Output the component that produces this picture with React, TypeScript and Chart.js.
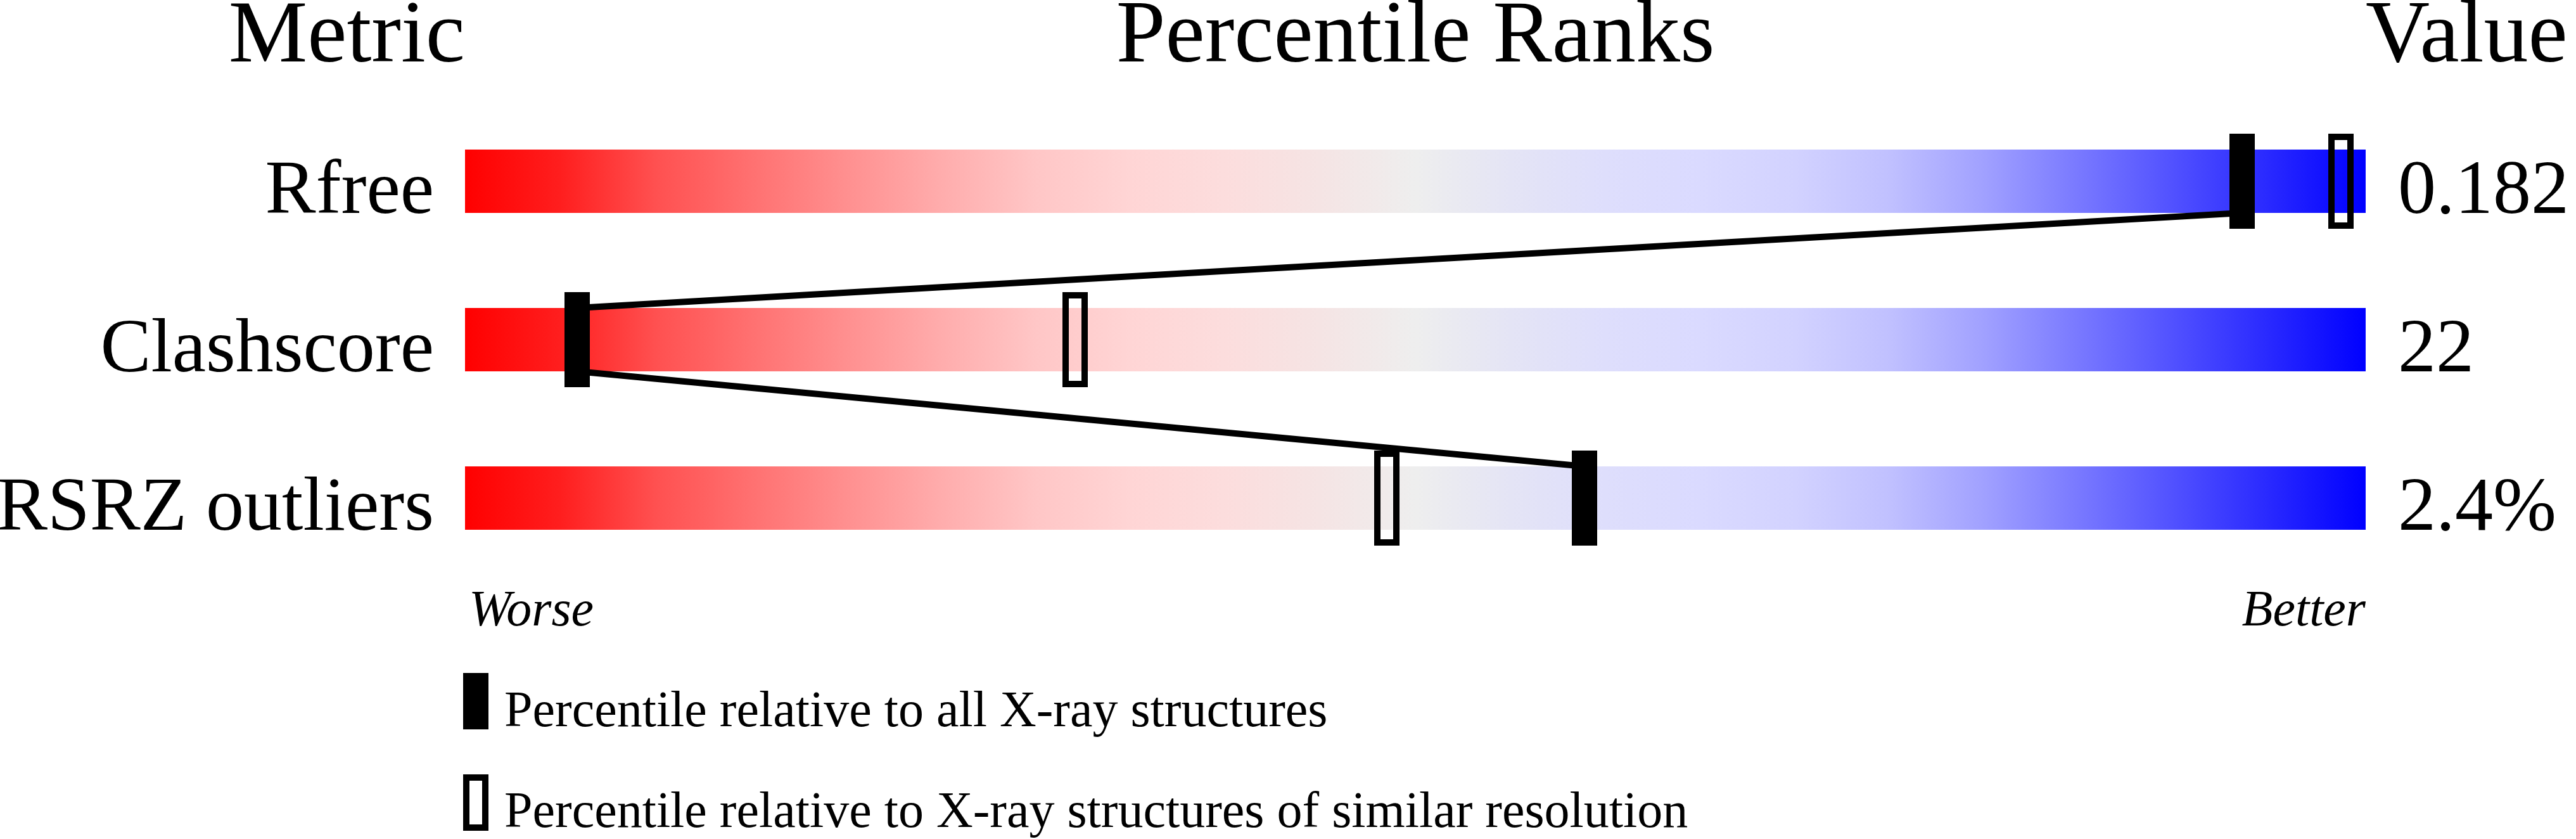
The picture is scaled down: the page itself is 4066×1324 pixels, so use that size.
import React, { useEffect, useRef } from "react";
import { Chart, registerables } from "chart.js";

Chart.register(...registerables);

// ---- data ----
const metrics = ["Rfree", "Clashscore", "RSRZ outliers"];
const metricValues = ["0.182", "22", "2.4%"];
const percentileAll = [93.5, 5.9, 58.9];
const percentileSimilar = [98.7, 32.1, 48.5];
const headers = ["Metric", "Percentile Ranks", "Value"];
const axisEnds = ["Worse", "Better"];
const legendLabels = [
  "Percentile relative to all X-ray structures",
  "Percentile relative to X-ray structures of similar resolution",
];

// ---- style ----
const W = 4066;
const H = 1324;
const BAR_FRACTION = 0.4;
const SERIF = '"Liberation Serif", "Times New Roman", serif';
const gradientStops: [number, string][] = [
  [0, "rgb(255,0,0)"],
  [0.05, "rgb(255,30,30)"],
  [0.1, "rgb(255,80,80)"],
  [0.15, "rgb(255,112,112)"],
  [0.2, "rgb(255,143,143)"],
  [0.25, "rgb(255,172,172)"],
  [0.3, "rgb(255,198,198)"],
  [0.35, "rgb(255,213,213)"],
  [0.4, "rgb(252,221,221)"],
  [0.45, "rgb(245,228,228)"],
  [0.5, "rgb(238,238,238)"],
  [0.55, "rgb(228,228,245)"],
  [0.6, "rgb(222,222,252)"],
  [0.65, "rgb(218,218,255)"],
  [0.7, "rgb(210,210,255)"],
  [0.75, "rgb(192,192,255)"],
  [0.8, "rgb(160,160,255)"],
  [0.85, "rgb(120,120,255)"],
  [0.9, "rgb(80,80,255)"],
  [0.95, "rgb(40,40,255)"],
  [1, "rgb(0,0,255)"],
];

function makeMarker(filled: boolean, w: number, h: number, border: number) {
  const c = document.createElement("canvas");
  c.width = w;
  c.height = h;
  const g = c.getContext("2d")!;
  g.fillStyle = "#000";
  if (filled) {
    g.fillRect(0, 0, w, h);
  } else {
    g.fillRect(0, 0, w, border);
    g.fillRect(0, h - border, w, border);
    g.fillRect(0, 0, border, h);
    g.fillRect(w - border, 0, border, h);
  }
  return c;
}

export default function App() {
  const ref = useRef<HTMLCanvasElement | null>(null);

  useEffect(() => {
    document.body.style.margin = "0";
    const canvas = ref.current!;
    const filledMarker = makeMarker(true, 40, 150, 10);
    const openMarker = makeMarker(false, 40, 150, 10);

    const rows = metrics.map((_, i) => i + 1);
    const half = BAR_FRACTION / 2;

    const linePts: { x: number; y: number }[] = [];
    for (let i = 0; i < rows.length; i++) {
      if (i > 0) linePts.push({ x: percentileAll[i], y: rows[i] - half });
      if (i < rows.length - 1) linePts.push({ x: percentileAll[i], y: rows[i] + half });
    }

    const textPlugin = {
      id: "textPlugin",
      afterDraw(chart: any) {
        const { ctx } = chart;
        const xs = chart.scales.x;
        const ys = chart.scales.y;
        const x0 = xs.getPixelForValue(0);
        const x100 = xs.getPixelForValue(100);
        const xMid = xs.getPixelForValue(50);
        const halfPx = ys.getPixelForValue(1 + half) - ys.getPixelForValue(1);
        ctx.save();
        ctx.fillStyle = "#000";
        ctx.textBaseline = "alphabetic";

        // headers
        ctx.font = `140px ${SERIF}`;
        ctx.textAlign = "right";
        ctx.fillText(headers[0], x0, 97);
        ctx.textAlign = "center";
        ctx.fillText(headers[1], xMid, 97);
        ctx.textAlign = "left";
        ctx.fillText(headers[2], x100, 97);

        // rows
        ctx.font = `120px ${SERIF}`;
        metrics.forEach((m, i) => {
          const by = ys.getPixelForValue(rows[i]) + halfPx;
          ctx.textAlign = "right";
          ctx.fillText(m, x0 - 49, by);
          ctx.textAlign = "left";
          ctx.fillText(metricValues[i], x100 + 51, by);
        });

        // worse / better
        const lastBottom = ys.getPixelForValue(rows[rows.length - 1]) + halfPx;
        ctx.font = `italic 80px ${SERIF}`;
        ctx.textAlign = "left";
        ctx.fillText(axisEnds[0], x0 + 6, lastBottom + 151);
        ctx.textAlign = "right";
        ctx.fillText(axisEnds[1], x100, lastBottom + 151);

        // legend
        ctx.font = `80px ${SERIF}`;
        ctx.textAlign = "left";
        const lx = x0 - 3;
        ctx.fillRect(lx, 1062, 40, 89);
        ctx.fillText(legendLabels[0], lx + 65, 1146);
        ctx.fillRect(lx, 1222, 40, 10);
        ctx.fillRect(lx, 1301, 40, 10);
        ctx.fillRect(lx, 1222, 10, 89);
        ctx.fillRect(lx + 30, 1222, 10, 89);
        ctx.fillText(legendLabels[1], lx + 65, 1305);
        ctx.restore();
      },
    };

    const chart = new Chart(canvas, {
      type: "scatter",
      data: {
        datasets: [
          {
            type: "scatter",
            label: "all",
            data: rows.map((r, i) => ({ x: percentileAll[i], y: r })),
            pointStyle: filledMarker as any,
            pointRadius: 5,
            order: 0,
            clip: false as any,
          },
          {
            type: "scatter",
            label: "similar",
            data: rows.map((r, i) => ({ x: percentileSimilar[i], y: r })),
            pointStyle: openMarker as any,
            pointRadius: 5,
            order: 1,
            clip: false as any,
          },
          {
            type: "line",
            label: "link",
            data: linePts,
            borderColor: "#000",
            borderWidth: 10,
            pointRadius: 0,
            tension: 0,
            fill: false,
            borderJoinStyle: "bevel",
            order: 2,
            clip: false as any,
          } as any,
          {
            type: "bar",
            label: "range",
            indexAxis: "y",
            data: rows.map((r) => ({ x: [0, 100], y: r })) as any,
            categoryPercentage: 1,
            barPercentage: BAR_FRACTION,
            borderWidth: 0,
            borderSkipped: false,
            backgroundColor: (c: any) => {
              const ch = c.chart;
              if (!ch.chartArea || !ch.scales.x) return "#eee";
              const xs = ch.scales.x;
              const g = ch.ctx.createLinearGradient(
                xs.getPixelForValue(0),
                0,
                xs.getPixelForValue(100),
                0
              );
              gradientStops.forEach(([o, col]) => g.addColorStop(o, col));
              return g;
            },
            order: 3,
          } as any,
        ],
      },
      options: {
        animation: false,
        responsive: false,
        devicePixelRatio: 1,
        events: [],
        layout: { padding: { left: 734, right: 332, top: 36, bottom: 288 } },
        scales: {
          x: { type: "linear", min: 0, max: 100, display: false, offset: false },
          y: {
            type: "linear",
            min: 0,
            max: 4,
            reverse: true,
            display: false,
            offset: false,
            ticks: { stepSize: 1 },
          },
        },
        plugins: {
          legend: { display: false },
          tooltip: { enabled: false },
          title: { display: false },
        },
      },
      plugins: [textPlugin],
    });

    return () => chart.destroy();
  }, []);

  return (
    <canvas
      ref={ref}
      width={W}
      height={H}
      style={{ display: "block", width: W, height: H }}
    />
  );
}
